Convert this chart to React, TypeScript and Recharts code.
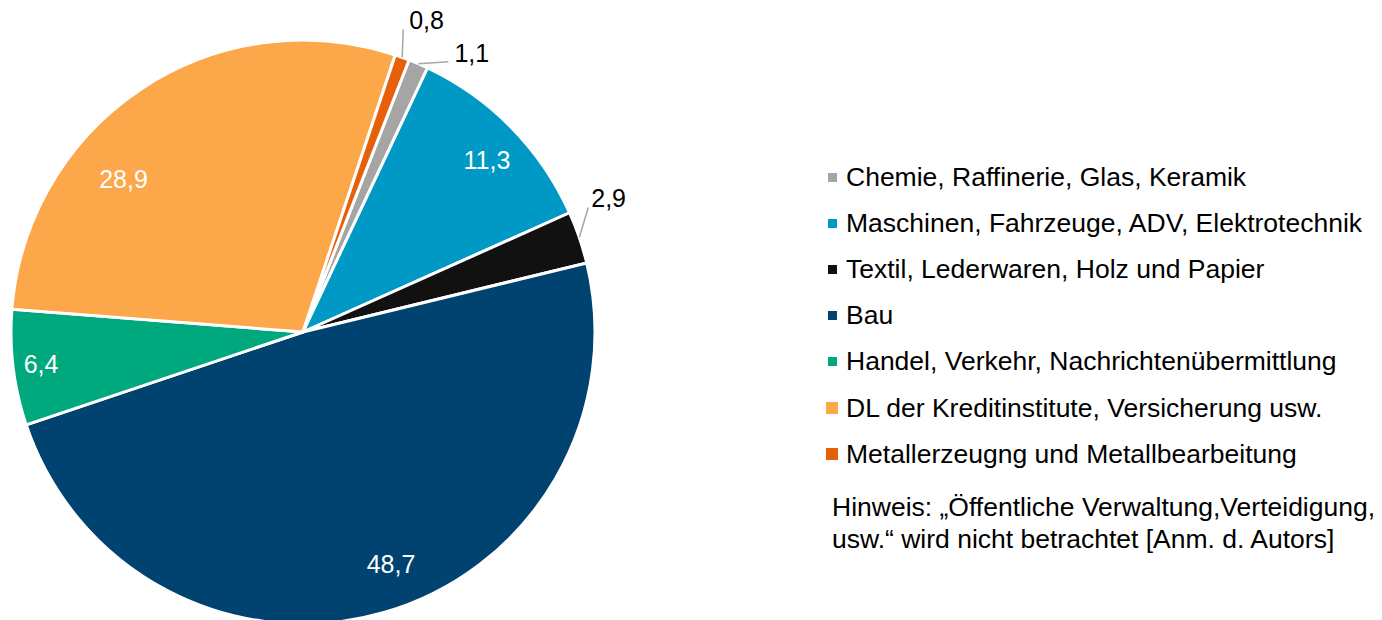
import { PieChart, Pie, Cell } from "recharts"

const sectors = [
    "Chemie, Raffinerie, Glas, Keramik",
    "Maschinen, Fahrzeuge, ADV, Elektrotechnik",
    "Textil, Lederwaren, Holz und Papier",
    "Bau",
    "Handel, Verkehr, Nachrichtenübermittlung",
    "DL der Kreditinstitute, Versicherung usw.",
    "Metallerzeugng und Metallbearbeitung",
]
const shares = [1.1, 11.3, 2.9, 48.7, 6.4, 28.9, 0.8]
const colors = ["#A5A5A5", "#0098C4", "#111111", "#004370", "#00A87E", "#FBA74A", "#E6600A"]
const note = ["Hinweis: „Öffentliche Verwaltung,Verteidigung,", "usw.“ wird nicht betrachtet [Anm. d. Autors]"]

const data = sectors.map((name, i) => ({ name, value: shares[i], fill: colors[i] }))

const FONT = "'Liberation Sans', Arial, sans-serif"
const RAD = Math.PI / 180

// Excel-style label placement: inside labels sit at a fraction of the radius (with a little best-fit
// nudge), the tiny slices get a leader line out to the side
const inside: Record<number, { r: number; shift: number }> = {
    1: { r: 0.863, shift: 1.3 },
    3: { r: 0.849, shift: -4.7 },
    4: { r: 0.904, shift: 0 },
    5: { r: 0.808, shift: -16 },
}
const outside: Record<number, { dx: number; dy: number; tx: number }> = {
    0: { dx: 30, dy: -2, tx: 6 },
    2: { dx: 9, dy: -30, tx: 3 },
    6: { dx: 1, dy: -28, tx: 6 },
}

const fmt = (v: number) => v.toFixed(1).replace(".", ",")

const renderLabel = (props: any) => {
    const { cx, cy, midAngle, outerRadius, index, value } = props
    const ins = inside[index]
    if (ins) {
        const a = (midAngle - ins.shift) * RAD
        const r = outerRadius * ins.r
        return (
            <text x={cx + r * Math.cos(a)} y={cy - r * Math.sin(a)} fill="#fff" fontSize={25}
                fontFamily={FONT} textAnchor="middle" dominantBaseline="central">
                {fmt(value)}
            </text>
        )
    }
    const o = outside[index]
    if (!o) return null
    const a = midAngle * RAD
    const px = cx + outerRadius * Math.cos(a)
    const py = cy - outerRadius * Math.sin(a)
    const qx = px + o.dx
    const qy = py + o.dy
    return (
        <g>
            <line x1={px} y1={py} x2={qx} y2={qy} stroke="#A6A6A6" strokeWidth={1.5} />
            <text x={qx + o.tx} y={qy} fill="#000" fontSize={25} fontFamily={FONT} textAnchor="start">
                {fmt(value)}
            </text>
        </g>
    )
}

// legend drawn by hand: fixed order, Excel's uneven marker sizes
const LegendBox = () => (
    <div style={{ position: "absolute", left: 826, top: 154, fontFamily: FONT, fontSize: 26.5, color: "#000" }}>
        {sectors.map((name, i) => {
            const s = i >= 5 ? 12 : 9
            return (
                <div key={i} style={{ height: 46.2, display: "flex", alignItems: "center", whiteSpace: "nowrap" }}>
                    <div style={{ width: 12, display: "flex", justifyContent: "center" }}>
                        <div style={{ width: s, height: s, background: colors[i] }} />
                    </div>
                    <span style={{ marginLeft: 8 }}>{name}</span>
                </div>
            )
        })}
        <div style={{ marginTop: 14, marginLeft: 6, lineHeight: "32px", whiteSpace: "nowrap" }}>
            {note.map((l, i) => <div key={i}>{l}</div>)}
        </div>
    </div>
)

export default function App() {
    return (
        <div style={{ width: 1382, height: 620, position: "relative", overflow: "hidden", background: "#fff" }}>
            <style>{`body{margin:0}`}</style>
            <PieChart width={1382} height={620} margin={{ top: 0, right: 0, bottom: 0, left: 0 }}>
                <Pie
                    data={data}
                    dataKey="value"
                    nameKey="name"
                    cx={303}
                    cy={332}
                    outerRadius={292}
                    startAngle={68.7}
                    endAngle={-291.3}
                    stroke="#fff"
                    strokeWidth={3}
                    label={renderLabel}
                    labelLine={false}
                    isAnimationActive={false}
                >
                    {data.map((d, i) => <Cell key={i} fill={d.fill} />)}
                </Pie>
            </PieChart>
            <LegendBox />
        </div>
    )
}
